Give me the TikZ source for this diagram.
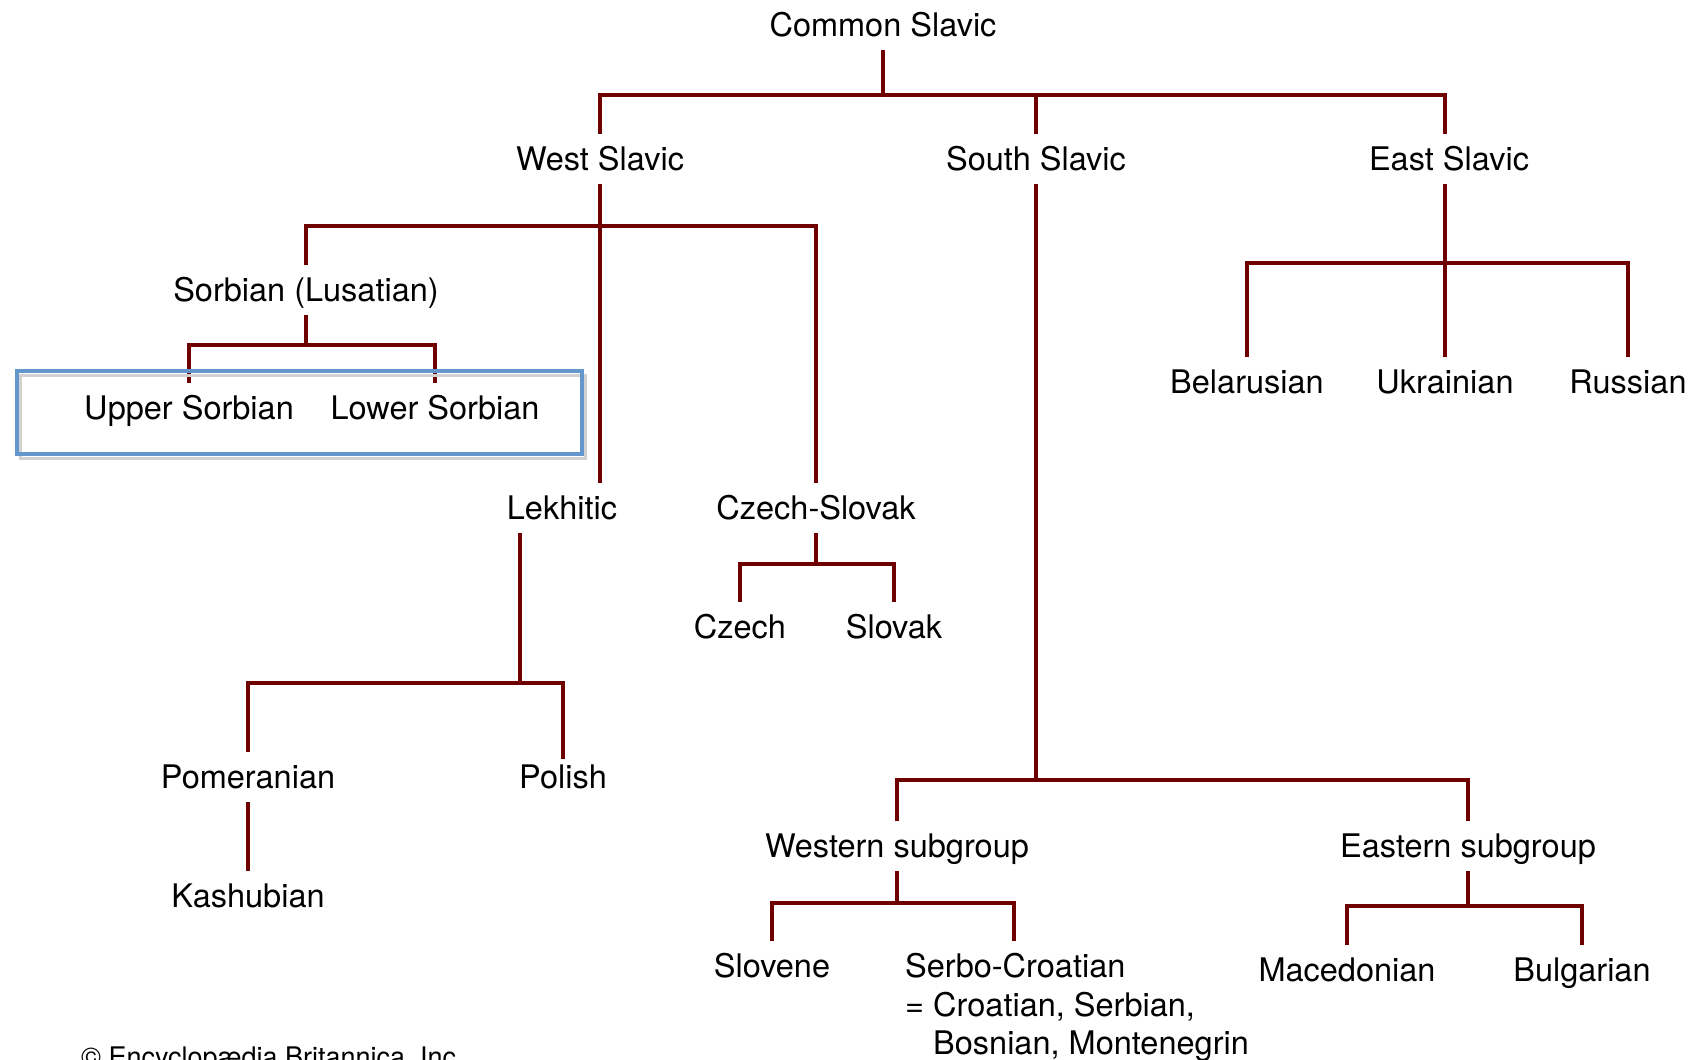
\documentclass[tikz,border=0pt]{standalone}
\usepackage{fontspec}
\setmainfont{TeX Gyre Heros}
\definecolor{tree}{RGB}{110,0,0}
\definecolor{boxblue}{RGB}{98,150,204}
\begin{document}
\begin{tikzpicture}[x=1pt,y=-1pt,
  lbl/.style={anchor=base, text height=22pt, text depth=0pt, inner xsep=0pt, inner ysep=14pt, font=\fontsize{32.5}{39}\selectfont},
  lblw/.style={lbl, anchor=base west},
  br/.style={draw=tree, line width=4.5pt, line join=miter}]
\useasboundingbox (0,0) rectangle (1695,1060);
% bar levels
\coordinate (yA) at (0,95);
\coordinate (yB) at (0,226);
\coordinate (yC) at (0,345);
\coordinate (yD) at (0,683);
\coordinate (yE) at (0,564);
\coordinate (yF) at (0,780);
\coordinate (yG) at (0,903);
\coordinate (yH) at (0,906);
\coordinate (yI) at (0,263);
\coordinate (esx) at (1445,0);
\coordinate (lkx) at (520,0);
\coordinate (scx) at (1014,0);
% nodes
\node[lbl] (cs) at (883,36) {Common Slavic};
\node[lbl] (ws) at (600,170) {West Slavic};
\node[lbl] (ss) at (1036,170) {South Slavic};
\node[lbl] (es) at (1449,170) {East Slavic};
\node[lbl] (sb) at (306,301) {Sorbian (Lusatian)};
\node[lbl] (us) at (189,419) {Upper Sorbian};
\node[lbl] (ls) at (435,419) {Lower Sorbian};
\node[lbl] (lk) at (562,519) {Lekhitic};
\node[lbl] (cz) at (816,519) {Czech-Slovak};
\node[lbl] (ce) at (740,638) {Czech};
\node[lbl] (sk) at (894,638) {Slovak};
\node[lbl] (pm) at (248,788) {Pomeranian};
\node[lbl] (pl) at (563,788) {Polish};
\node[lbl] (ka) at (248,907) {Kashubian};
\node[lbl] (be) at (1247,393) {Belarusian};
\node[lbl] (uk) at (1445,393) {Ukrainian};
\node[lbl] (ru) at (1628,393) {Russian};
\node[lbl] (wg) at (897,857) {Western subgroup};
\node[lbl] (eg) at (1468,857) {Eastern subgroup};
\node[lbl] (sl) at (772,977) {Slovene};
\node[lblw] (sc) at (905,977) {Serbo-Croatian};
\node[lblw] (sc2) at (905,1016) {= Croatian, Serbian,};
\node[lblw] (sc3) at (933,1054) {Bosnian, Montenegrin};
\node[lbl] (mk) at (1347,981) {Macedonian};
\node[lbl] (bg) at (1582,981) {Bulgarian};
\node[anchor=base west, inner sep=0pt, font=\fontsize{27}{32}\selectfont] (copy) at (81,1066) {© Encyclopædia Britannica, Inc.};
% connectors
\draw[br] (cs.south) -- (cs.south |- yA);
\draw[br] (ws.north) -- (ws.north |- yA) -- (esx |- yA) -- (esx |- es.north);
\draw[br] (ss.north) -- (ss.north |- yA);
% west
\draw[br] (ws.south) -- (ws.south |- lk.north);
\draw[br] (sb.north) -- (sb.north |- yB) -- (cz.north |- yB) -- (cz.north);
\draw[br] (sb.south) -- (sb.south |- yC);
\draw[br] (us.north) -- (us.north |- yC) -- (ls.north |- yC) -- (ls.north);
\draw[br] (lkx |- lk.south) -- (lkx |- yD);
\draw[br] (pm.north) -- (pm.north |- yD) -- (pl.north |- yD) -- ([yshift=-7pt]pl.north);
\draw[br] (pm.south) -- (ka.north);
\draw[br] (cz.south) -- (cz.south |- yE);
\draw[br] (ce.north) -- (ce.north |- yE) -- (sk.north |- yE) -- (sk.north);
% south
\draw[br] (ss.south) -- (ss.south |- yF);
\draw[br] (wg.north) -- (wg.north |- yF) -- (eg.north |- yF) -- (eg.north);
\draw[br] (wg.south) -- (wg.south |- yG);
\draw[br] (sl.north) -- (sl.north |- yG) -- (scx |- yG) -- (scx |- sc.north);
\draw[br] (eg.south) -- (eg.south |- yH);
\draw[br] (mk.north) -- (mk.north |- yH) -- (bg.north |- yH) -- (bg.north);
% east
\draw[br] (esx |- es.south) -- (uk.north);
\draw[br] (be.north) -- (be.north |- yI) -- (ru.north |- yI) -- (ru.north);
% highlight box
\draw[black!18, line width=3pt] (20,375) rectangle (585,458);
\node[draw=boxblue, line width=3.5pt, minimum width=565pt, minimum height=83pt, inner sep=0pt] (hbox) at (299.5,412.5) {};
\end{tikzpicture}
\end{document}
